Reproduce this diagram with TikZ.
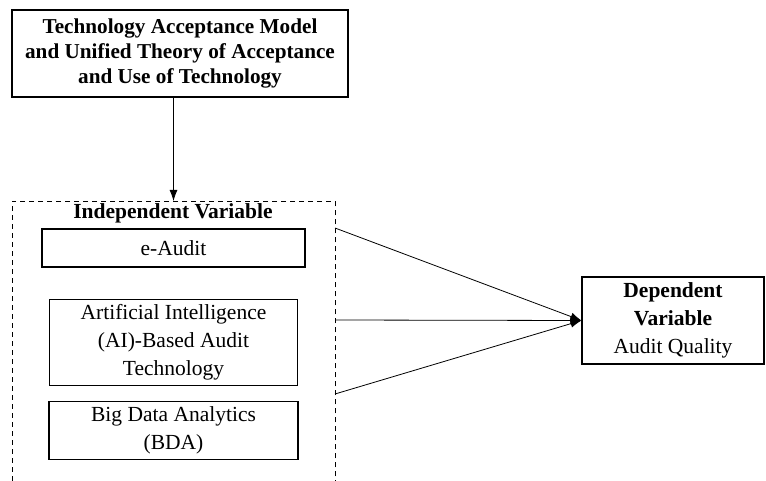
\documentclass[tikz,border=0pt]{standalone}
\usepackage{fontspec}
\setmainfont{Liberation Serif}
\usetikzlibrary{arrows.meta,positioning}
\tikzset{
  box/.style={draw=black, line width=1.1pt, align=center, inner sep=0pt, font=\fontsize{21.5}{28}\selectfont},
  boldbox/.style={box, font=\fontsize{21.2}{25}\selectfont\bfseries},
  groupbox/.style={draw=black, dash pattern=on 5pt off 4pt, line width=0.9pt},
  titletext/.style={font=\fontsize{21.5}{25}\selectfont\bfseries},
  flow/.style={-{Latex[length=11pt,width=8pt]}, line width=0.8pt, draw=black}
}

\begin{document}
\begin{tikzpicture}[x=1pt, y=-1pt]
  \useasboundingbox (0,0) rectangle (766,481);
  \clip (0,0) rectangle (766,481);
  \node[boldbox, minimum width=336pt, minimum height=87pt] (tam) at (180,53.5) {Technology Acceptance Model\\and Unified Theory of Acceptance\\and Use of Technology};
  \node[groupbox, minimum width=323pt, minimum height=330pt, anchor=north] (iv) at (173.5,201) {};
  \node[titletext] (ivtitle) at (173,213) {Independent Variable};
  \node[box, minimum width=263pt, minimum height=38pt] (eaudit) at (173.5,248) {e-Audit};
  \node[box, below=31pt of eaudit, minimum width=248pt, minimum height=86pt] (ai) {Artificial Intelligence\\(AI)-Based Audit\\Technology};
  \node[box, below=15pt of ai, minimum width=249pt, minimum height=58pt] (bda) {Big Data Analytics\\(BDA)};
  \node[box, minimum width=182pt, minimum height=87pt] (dep) at (673,320.5) {\textbf{Dependent}\\\textbf{Variable}\\Audit Quality};
  \coordinate (s1) at (335,228);
  \coordinate (s2) at (335,320);
  \coordinate (s3) at (335,394);
  \draw[flow] (tam.south -| iv.north) -- (iv.north);
  \foreach \s in {s1,s2,s3}
    \draw[flow] (\s) -- (dep.west);
\end{tikzpicture}
\end{document}
